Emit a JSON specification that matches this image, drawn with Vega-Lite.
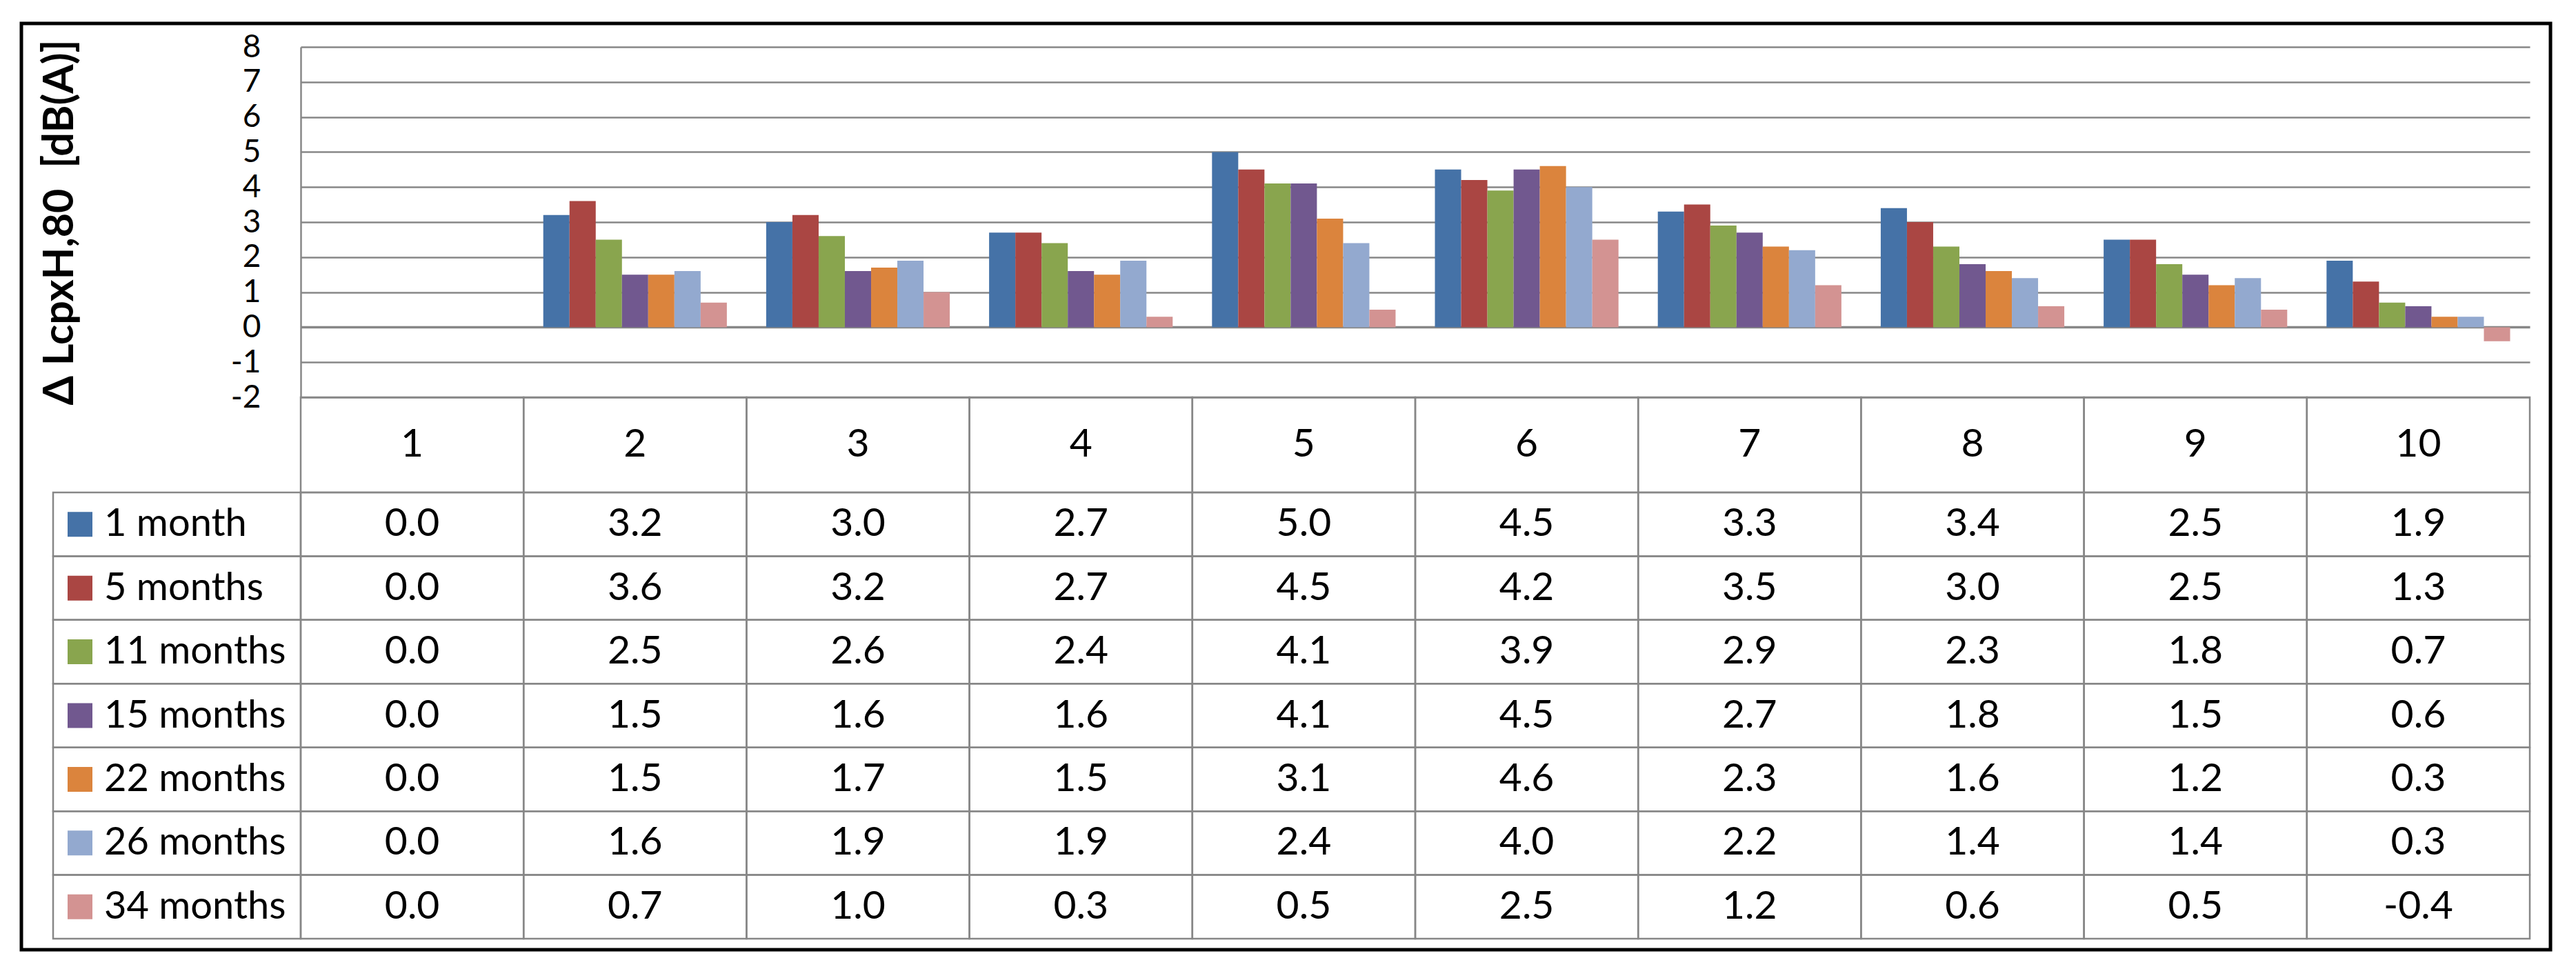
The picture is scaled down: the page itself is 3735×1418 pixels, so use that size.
{
  "$schema": "https://vega.github.io/schema/vega-lite/v6.json",
  "width": 3667,
  "height": 1343,
  "autosize": {"type": "none"},
  "padding": {"left": 31, "top": 34, "right": 37, "bottom": 41},
  "background": "white",
  "config": {
    "view": {"stroke": "black", "strokeWidth": 5},
    "font": "Lato",
    "locale": {
      "number": {"decimal": ".", "thousands": ",", "grouping": [3], "currency": ["$", ""], "minus": "-"}
    }
  },
  "datasets": {
    "cells": [
      {"position": 1, "age": "1 month", "delta": 0.0},
      {"position": 1, "age": "5 months", "delta": 0.0},
      {"position": 1, "age": "11 months", "delta": 0.0},
      {"position": 1, "age": "15 months", "delta": 0.0},
      {"position": 1, "age": "22 months", "delta": 0.0},
      {"position": 1, "age": "26 months", "delta": 0.0},
      {"position": 1, "age": "34 months", "delta": 0.0},
      {"position": 2, "age": "1 month", "delta": 3.2},
      {"position": 2, "age": "5 months", "delta": 3.6},
      {"position": 2, "age": "11 months", "delta": 2.5},
      {"position": 2, "age": "15 months", "delta": 1.5},
      {"position": 2, "age": "22 months", "delta": 1.5},
      {"position": 2, "age": "26 months", "delta": 1.6},
      {"position": 2, "age": "34 months", "delta": 0.7},
      {"position": 3, "age": "1 month", "delta": 3.0},
      {"position": 3, "age": "5 months", "delta": 3.2},
      {"position": 3, "age": "11 months", "delta": 2.6},
      {"position": 3, "age": "15 months", "delta": 1.6},
      {"position": 3, "age": "22 months", "delta": 1.7},
      {"position": 3, "age": "26 months", "delta": 1.9},
      {"position": 3, "age": "34 months", "delta": 1.0},
      {"position": 4, "age": "1 month", "delta": 2.7},
      {"position": 4, "age": "5 months", "delta": 2.7},
      {"position": 4, "age": "11 months", "delta": 2.4},
      {"position": 4, "age": "15 months", "delta": 1.6},
      {"position": 4, "age": "22 months", "delta": 1.5},
      {"position": 4, "age": "26 months", "delta": 1.9},
      {"position": 4, "age": "34 months", "delta": 0.3},
      {"position": 5, "age": "1 month", "delta": 5.0},
      {"position": 5, "age": "5 months", "delta": 4.5},
      {"position": 5, "age": "11 months", "delta": 4.1},
      {"position": 5, "age": "15 months", "delta": 4.1},
      {"position": 5, "age": "22 months", "delta": 3.1},
      {"position": 5, "age": "26 months", "delta": 2.4},
      {"position": 5, "age": "34 months", "delta": 0.5},
      {"position": 6, "age": "1 month", "delta": 4.5},
      {"position": 6, "age": "5 months", "delta": 4.2},
      {"position": 6, "age": "11 months", "delta": 3.9},
      {"position": 6, "age": "15 months", "delta": 4.5},
      {"position": 6, "age": "22 months", "delta": 4.6},
      {"position": 6, "age": "26 months", "delta": 4.0},
      {"position": 6, "age": "34 months", "delta": 2.5},
      {"position": 7, "age": "1 month", "delta": 3.3},
      {"position": 7, "age": "5 months", "delta": 3.5},
      {"position": 7, "age": "11 months", "delta": 2.9},
      {"position": 7, "age": "15 months", "delta": 2.7},
      {"position": 7, "age": "22 months", "delta": 2.3},
      {"position": 7, "age": "26 months", "delta": 2.2},
      {"position": 7, "age": "34 months", "delta": 1.2},
      {"position": 8, "age": "1 month", "delta": 3.4},
      {"position": 8, "age": "5 months", "delta": 3.0},
      {"position": 8, "age": "11 months", "delta": 2.3},
      {"position": 8, "age": "15 months", "delta": 1.8},
      {"position": 8, "age": "22 months", "delta": 1.6},
      {"position": 8, "age": "26 months", "delta": 1.4},
      {"position": 8, "age": "34 months", "delta": 0.6},
      {"position": 9, "age": "1 month", "delta": 2.5},
      {"position": 9, "age": "5 months", "delta": 2.5},
      {"position": 9, "age": "11 months", "delta": 1.8},
      {"position": 9, "age": "15 months", "delta": 1.5},
      {"position": 9, "age": "22 months", "delta": 1.2},
      {"position": 9, "age": "26 months", "delta": 1.4},
      {"position": 9, "age": "34 months", "delta": 0.5},
      {"position": 10, "age": "1 month", "delta": 1.9},
      {"position": 10, "age": "5 months", "delta": 1.3},
      {"position": 10, "age": "11 months", "delta": 0.7},
      {"position": 10, "age": "15 months", "delta": 0.6},
      {"position": 10, "age": "22 months", "delta": 0.3},
      {"position": 10, "age": "26 months", "delta": 0.3},
      {"position": 10, "age": "34 months", "delta": -0.4}
    ],
    "ages": [
      {"age": "1 month"},
      {"age": "5 months"},
      {"age": "11 months"},
      {"age": "15 months"},
      {"age": "22 months"},
      {"age": "26 months"},
      {"age": "34 months"}
    ],
    "positions": [
      {"position": 1}, {"position": 2}, {"position": 3}, {"position": 4}, {"position": 5},
      {"position": 6}, {"position": 7}, {"position": 8}, {"position": 9}, {"position": 10}
    ]
  },
  "resolve": {
    "scale": {"x": "independent", "y": "independent"},
    "axis": {"x": "independent", "y": "independent"}
  },
  "layer": [
    {
      "data": {"name": "cells"},
      "mark": {"type": "bar"},
      "encoding": {
        "x": {
          "field": "position", "type": "ordinal", "axis": null,
          "scale": {"domain": [1, 2, 3, 4, 5, 6, 7, 8, 9, 10], "range": [405, 3637], "paddingInner": 0, "paddingOuter": 0}
        },
        "xOffset": {
          "field": "age", "type": "nominal",
          "scale": {"domain": ["1 month", "5 months", "11 months", "15 months", "22 months", "26 months", "34 months"], "paddingInner": 0, "paddingOuter": 0.75}
        },
        "y": {
          "field": "delta", "type": "quantitative",
          "scale": {"domain": [-2, 8], "range": [542, 34], "nice": false, "zero": false},
          "axis": {
            "title": "Δ LcpxH,80\u00a0 [dB(A)]",
            "orient": "left",
            "offset": -405,
            "values": [-2, -1, 0, 1, 2, 3, 4, 5, 6, 7, 8],
            "ticks": false,
            "labelOverlap": false,
            "domainColor": "#878787",
            "domainWidth": 2.5,
            "grid": true,
            "gridColor": "#878787",
            "gridWidth": {"condition": {"test": "datum.value === 0", "value": 3.5}, "value": 2.5},
            "labelPadding": 58,
            "labelFont": "Lato",
            "labelFontSize": 46,
            "labelColor": "black",
            "titleFont": "Lato",
            "titleFontSize": 61,
            "titleFontWeight": "bold",
            "titleColor": "black",
            "titlePadding": 216
          }
        },
        "color": {
          "field": "age", "type": "nominal", "legend": null,
          "scale": {
            "domain": ["1 month", "5 months", "11 months", "15 months", "22 months", "26 months", "34 months"],
            "range": ["#4572a7", "#aa4643", "#89a54e", "#71588f", "#db843d", "#93a9cf", "#d39392"]
          }
        }
      }
    },
    {
      "data": {"name": "positions"},
      "mark": {"type": "rect", "filled": false, "stroke": "#878787", "strokeWidth": 2.5},
      "encoding": {
        "x": {
          "field": "position", "type": "ordinal", "axis": null,
          "scale": {"domain": [1, 2, 3, 4, 5, 6, 7, 8, 9, 10], "range": [405, 3637], "paddingInner": 0, "paddingOuter": 0}
        },
        "y": {
          "datum": "header", "type": "nominal", "axis": null,
          "scale": {"domain": ["header"], "range": [542, 680], "paddingInner": 0, "paddingOuter": 0}
        }
      }
    },
    {
      "data": {"name": "positions"},
      "mark": {"type": "text", "font": "Lato", "fontSize": 57, "color": "black", "baseline": "middle", "align": "center"},
      "encoding": {
        "x": {
          "field": "position", "type": "ordinal", "axis": null,
          "scale": {"domain": [1, 2, 3, 4, 5, 6, 7, 8, 9, 10], "range": [405, 3637], "paddingInner": 0, "paddingOuter": 0}
        },
        "y": {
          "datum": "header", "type": "nominal", "axis": null,
          "scale": {"domain": ["header"], "range": [542, 680], "paddingInner": 0, "paddingOuter": 0}
        },
        "text": {"field": "position", "type": "ordinal"}
      }
    },
    {
      "data": {"name": "cells"},
      "mark": {"type": "rect", "filled": false, "stroke": "#878787", "strokeWidth": 2.5},
      "encoding": {
        "x": {
          "field": "position", "type": "ordinal", "axis": null,
          "scale": {"domain": [1, 2, 3, 4, 5, 6, 7, 8, 9, 10], "range": [405, 3637], "paddingInner": 0, "paddingOuter": 0}
        },
        "y": {
          "field": "age", "type": "nominal", "axis": null,
          "scale": {"domain": ["1 month", "5 months", "11 months", "15 months", "22 months", "26 months", "34 months"], "range": [680, 1327], "paddingInner": 0, "paddingOuter": 0}
        }
      }
    },
    {
      "data": {"name": "cells"},
      "mark": {"type": "text", "font": "Lato", "fontSize": 57, "color": "black", "baseline": "middle", "align": "center"},
      "encoding": {
        "x": {
          "field": "position", "type": "ordinal", "axis": null,
          "scale": {"domain": [1, 2, 3, 4, 5, 6, 7, 8, 9, 10], "range": [405, 3637], "paddingInner": 0, "paddingOuter": 0}
        },
        "y": {
          "field": "age", "type": "nominal", "axis": null,
          "scale": {"domain": ["1 month", "5 months", "11 months", "15 months", "22 months", "26 months", "34 months"], "range": [680, 1327], "paddingInner": 0, "paddingOuter": 0}
        },
        "text": {"field": "delta", "type": "quantitative", "format": ".1f"}
      }
    },
    {
      "data": {"name": "ages"},
      "mark": {"type": "rect", "filled": false, "stroke": "#878787", "strokeWidth": 2.5},
      "encoding": {
        "x": {
          "datum": "legend", "type": "nominal", "axis": null,
          "scale": {"domain": ["legend"], "range": [46, 405], "paddingInner": 0, "paddingOuter": 0}
        },
        "y": {
          "field": "age", "type": "nominal", "axis": null,
          "scale": {"domain": ["1 month", "5 months", "11 months", "15 months", "22 months", "26 months", "34 months"], "range": [680, 1327], "paddingInner": 0, "paddingOuter": 0}
        }
      }
    },
    {
      "data": {"name": "ages"},
      "mark": {"type": "square", "size": 1296, "filled": true, "opacity": 1, "xOffset": -140.5},
      "encoding": {
        "x": {
          "datum": "legend", "type": "nominal", "axis": null,
          "scale": {"domain": ["legend"], "range": [46, 405], "paddingInner": 0, "paddingOuter": 0}
        },
        "y": {
          "field": "age", "type": "nominal", "axis": null,
          "scale": {"domain": ["1 month", "5 months", "11 months", "15 months", "22 months", "26 months", "34 months"], "range": [680, 1327], "paddingInner": 0, "paddingOuter": 0}
        },
        "color": {"field": "age", "type": "nominal", "legend": null}
      }
    },
    {
      "data": {"name": "ages"},
      "mark": {"type": "text", "font": "Lato", "fontSize": 56, "color": "black", "baseline": "middle", "align": "left", "dx": -105.5},
      "encoding": {
        "x": {
          "datum": "legend", "type": "nominal", "axis": null,
          "scale": {"domain": ["legend"], "range": [46, 405], "paddingInner": 0, "paddingOuter": 0}
        },
        "y": {
          "field": "age", "type": "nominal", "axis": null,
          "scale": {"domain": ["1 month", "5 months", "11 months", "15 months", "22 months", "26 months", "34 months"], "range": [680, 1327], "paddingInner": 0, "paddingOuter": 0}
        },
        "text": {"field": "age", "type": "nominal"}
      }
    }
  ]
}
